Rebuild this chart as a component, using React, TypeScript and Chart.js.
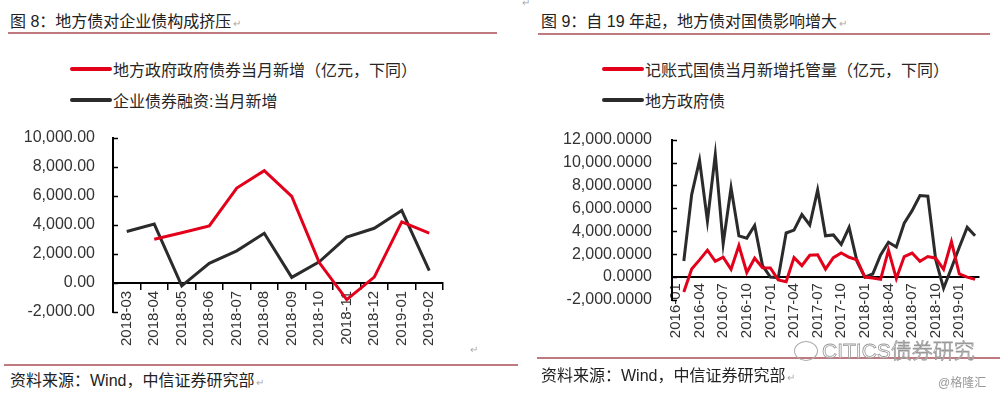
import React, { useEffect, useRef } from "react";
import { Chart, registerables } from "chart.js";

Chart.register(...registerables);

// ---------- Left chart (图 8) ----------
const leftCategories = [
  "2018-03", "2018-04", "2018-05", "2018-06", "2018-07", "2018-08",
  "2018-09", "2018-10", "2018-11", "2018-12", "2019-01", "2019-02",
];
const leftLocalGovBonds = [null, 3000, 3450, 3920, 6530, 7720, 5950, 1400, -1150, 400, 4200, 3430];
const leftCorporateBonds = [3540, 4050, -200, 1350, 2210, 3420, 380, 1450, 3150, 3760, 4980, 840];
const leftYMin = -2000;
const leftYMax = 10000;
const leftYStep = 2000;

// ---------- Right chart (图 9) ----------
const rightCategories = [
  "2016-01", "2016-02", "2016-03", "2016-04", "2016-05", "2016-06", "2016-07", "2016-08", "2016-09",
  "2016-10", "2016-11", "2016-12", "2017-01", "2017-02", "2017-03", "2017-04", "2017-05", "2017-06",
  "2017-07", "2017-08", "2017-09", "2017-10", "2017-11", "2017-12", "2018-01", "2018-02", "2018-03",
  "2018-04", "2018-05", "2018-06", "2018-07", "2018-08", "2018-09", "2018-10", "2018-11", "2018-12",
  "2019-01", "2019-02", "2019-03",
];
const rightTreasury = [
  null, -1300, 700, 1500, 2350, 1370, 1730, 680, 2760,
  400, 1650, 820, 800, -250, -400, 1700, 1000, 1900,
  1950, 700, 1700, 2100, 1730, 1500, 0, -80, -200,
  2350, -130, 1790, 2100, 1370, 1790, 1650, 680, 3100,
  270, 0, -200,
];
const rightLocalGov = [
  null, 1400, 7200, 10200, 4900, 10700, 2900, 7800, 3600,
  3400, 4500, 1000, 0, -50, 3850, 4100, 5450, 4550,
  7600, 3600, 3680, 2850, 4340, 1370, 0, 270, 1930,
  3040, 2620, 4700, 5800, 7110, 7060, 1510, -980, 800,
  2600, 4340, 3600,
];
const rightYMin = -2000;
const rightYMax = 12000;
const rightYStep = 2000;
const rightLabelEvery = 3;

const RED = "#e3001b";
const DARK = "#2b2b2b";
const RULE = "#bf7a80";
const FONT = '"Liberation Sans", Arial, "Noto Sans CJK SC", sans-serif';

const innerTicks = {
  id: "innerTicks",
  afterDraw(chart: any) {
    const y = chart.scales.y;
    const ctx = chart.ctx;
    const left = chart.chartArea.left;
    ctx.save();
    ctx.strokeStyle = "#000";
    ctx.lineWidth = 1.5;
    y.ticks.forEach((_t: any, i: number) => {
      const py = Math.round(y.getPixelForTick(i)) + 0.5;
      ctx.beginPath();
      ctx.moveTo(left, py);
      ctx.lineTo(left + 5, py);
      ctx.stroke();
    });
    ctx.restore();
  },
};

function makeConfig(opts: {
  labels: string[];
  series: { label: string; data: (number | null)[]; color: string }[];
  yMin: number;
  yMax: number;
  yStep: number;
  decimals: number;
  yWidth: number;
  yPad: number;
  yFont: number;
  xFont: number;
  xTicks: boolean;
  every: number;
  padding: { left: number; right: number; top: number; bottom: number };
}) {
  return {
    type: "line",
    data: {
      labels: opts.labels,
      datasets: opts.series.map((s) => ({
        label: s.label,
        data: s.data,
        borderColor: s.color,
        backgroundColor: s.color,
        borderWidth: 3,
        pointRadius: 0,
        tension: 0,
        fill: false,
      })),
    },
    options: {
      animation: false,
      responsive: false,
      devicePixelRatio: 1,
      layout: { padding: opts.padding },
      plugins: { legend: { display: false }, tooltip: { enabled: false } },
      scales: {
        x: {
          type: "category",
          offset: true,
          position: { y: 0 },
          grid: {
            display: true,
            drawOnChartArea: false,
            drawTicks: opts.xTicks,
            tickLength: 6,
            offset: true,
            color: "#000",
            lineWidth: 1.5,
          },
          border: { display: true, color: "#000", width: 2 },
          ticks: {
            autoSkip: false,
            minRotation: 90,
            maxRotation: 90,
            padding: opts.xTicks ? 2 : 6,
            color: "#333",
            font: { family: FONT, size: opts.xFont },
            callback: (_v: any, i: number) => (i % opts.every === 0 ? opts.labels[i] : ""),
          },
        },
        y: {
          min: opts.yMin,
          max: opts.yMax,
          afterFit: (scale: any) => {
            scale.width = opts.yWidth;
          },
          grid: { display: true, drawOnChartArea: false, drawTicks: false },
          border: { display: true, color: "#000", width: 2 },
          ticks: {
            stepSize: opts.yStep,
            padding: opts.yPad,
            color: "#333",
            font: { family: FONT, size: opts.yFont },
            callback: (v: any) =>
              Number(v).toLocaleString("en-US", {
                minimumFractionDigits: opts.decimals,
                maximumFractionDigits: opts.decimals,
              }),
          },
        },
      },
    },
    plugins: [innerTicks],
  } as any;
}

function ChartCanvas(props: { config: any; left: number; top: number; width: number; height: number }) {
  const ref = useRef<HTMLCanvasElement | null>(null);
  useEffect(() => {
    if (!ref.current) return;
    const chart = new Chart(ref.current, props.config);
    return () => chart.destroy();
  }, []);
  return (
    <canvas
      ref={ref}
      width={props.width}
      height={props.height}
      style={{ position: "absolute", left: props.left, top: props.top, width: props.width, height: props.height }}
    />
  );
}

function Legend(props: { left: number; top: number; items: { label: string; color: string }[] }) {
  return (
    <div style={{ position: "absolute", left: props.left, top: props.top }}>
      {props.items.map((it, i) => (
        <div key={i} style={{ display: "flex", alignItems: "center", height: 31 }}>
          <div style={{ width: 42, height: 4, background: it.color, borderRadius: 2, marginRight: 1 }} />
          <span style={{ fontFamily: FONT, fontSize: 16, color: "#262626", whiteSpace: "nowrap" }}>{it.label}</span>
        </div>
      ))}
    </div>
  );
}

const leftSeries = [
  { label: "地方政府政府债券当月新增（亿元，下同）", data: leftLocalGovBonds, color: RED },
  { label: "企业债券融资:当月新增", data: leftCorporateBonds, color: DARK },
];
const rightSeries = [
  { label: "记账式国债当月新增托管量（亿元，下同）", data: rightTreasury, color: RED },
  { label: "地方政府债", data: rightLocalGov, color: DARK },
];

const leftConfig = makeConfig({
  labels: leftCategories,
  series: leftSeries,
  yMin: leftYMin,
  yMax: leftYMax,
  yStep: leftYStep,
  decimals: 2,
  yWidth: 113,
  yPad: 18,
  yFont: 16,
  xFont: 15,
  xTicks: true,
  every: 1,
  padding: { left: 0, right: 57, top: 23, bottom: 48 },
});

const rightConfig = makeConfig({
  labels: rightCategories,
  series: rightSeries,
  yMin: rightYMin,
  yMax: rightYMax,
  yStep: rightYStep,
  decimals: 4,
  yWidth: 152,
  yPad: 20,
  yFont: 16,
  xFont: 15,
  xTicks: false,
  every: rightLabelEvery,
  padding: { left: 0, right: 21, top: 23, bottom: 60 },
});

const textStyle = (left: number, top: number, size: number, color = "#222"): React.CSSProperties => ({
  position: "absolute",
  left,
  top,
  fontFamily: FONT,
  fontSize: size,
  color,
  whiteSpace: "nowrap",
  lineHeight: `${size + 4}px`,
});

const mark: React.CSSProperties = { color: "#aaa", fontSize: 10, marginLeft: 2 };

export default function App() {
  return (
    <div style={{ position: "absolute", left: 0, top: 0, width: 1000, height: 396, background: "#fff", overflow: "hidden" }}>
      <div style={textStyle(522, -4, 10, "#aaa")}>↵</div>
      <div style={textStyle(10, 12, 16)}>
        图 8：地方债对企业债构成挤压<span style={mark}>↵</span>
      </div>
      <div style={{ position: "absolute", left: 8, top: 32, width: 489, height: 2, background: RULE }} />
      <div style={textStyle(541, 12, 16)}>
        图 9：自 19 年起，地方债对国债影响增大<span style={mark}>↵</span>
      </div>
      <div style={{ position: "absolute", left: 538, top: 33, width: 452, height: 2, background: RULE }} />

      <Legend left={70} top={53} items={leftSeries.map((s) => ({ label: s.label, color: s.color }))} />
      <Legend left={602} top={53} items={rightSeries.map((s) => ({ label: s.label, color: s.color }))} />

      <ChartCanvas config={leftConfig} left={0} top={110} width={500} height={250} />
      <ChartCanvas config={rightConfig} left={520} top={110} width={480} height={250} />

      <div style={textStyle(470, 343, 10, "#aaa")}>↵</div>
      <div style={{ position: "absolute", left: 4, top: 364, width: 514, height: 2, background: RULE }} />
      <div style={{ position: "absolute", left: 537, top: 357, width: 463, height: 2, background: RULE }} />

      <div style={{ position: "absolute", left: 794, top: 341, width: 22, height: 18, border: "1.5px solid #aaa", borderRadius: "50%" }} />
      <div
        style={{
          ...textStyle(822, 338, 21, "rgba(255,255,255,0.7)"),
          WebkitTextStroke: "0.8px #999",
          fontWeight: 300,
        }}
      >
        CITICS债券研究
      </div>

      <div style={textStyle(10, 371, 16)}>
        资料来源：Wind，中信证券研究部<span style={mark}>↵</span>
      </div>
      <div style={textStyle(541, 366, 16)}>
        资料来源：Wind，中信证券研究部<span style={mark}>↵</span>
      </div>
      <div style={textStyle(938, 375, 12, "#999")}>@格隆汇</div>
    </div>
  );
}
